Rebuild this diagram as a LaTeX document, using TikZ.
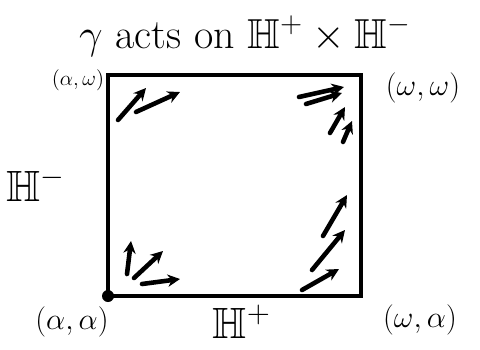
\documentclass[tikz,border=0pt]{standalone}
\usepackage{amsmath}
\usepackage{amssymb}
\usepackage{xcolor}
\usetikzlibrary{arrows.meta,positioning}

\begin{document}
\begin{tikzpicture}[x=0.02cm,y=-0.02cm,
    flowarrow/.style={line width=2.6pt, -{Stealth[length=7pt,width=7pt]}, line cap=round},
    cornerlbl/.style={font=\LARGE},
    axislbl/.style={font=\huge, scale=1.2}
]
\useasboundingbox (0,0) rectangle (480,349);

% the square H+ x H-
\coordinate (aa) at (108,296);
\coordinate (aw) at (108,75);
\coordinate (ww) at (361,75);
\coordinate (wa) at (361,296);
\draw[line width=1.9pt] (aa) -- (aw) -- (ww) -- (wa) -- cycle;
\fill (aa) circle (6);

\node[font=\huge, scale=1.15] (title) at (245,36) {$\gamma$ acts on $\mathbb{H}^{+}\times\mathbb{H}^{-}$};
\node[font=\large] (aw lbl) at (78,80) {$(\alpha,\omega)$};
\node[cornerlbl] (ww lbl) at (423,88) {$(\omega,\omega)$};
\node[cornerlbl] (aa lbl) at (72,322) {$(\alpha,\alpha)$};
\node[cornerlbl] (wa lbl) at (420,320) {$(\omega,\alpha)$};
\node[axislbl] (hminus) at (36,185) {$\mathbb{H}^{-}$};
\node[axislbl] (hplus) at (242,322) {$\mathbb{H}^{+}$};

% orbits near (alpha,omega)
\coordinate (p1) at (118,120); \coordinate (q1) at (146,88);
\coordinate (p2) at (136,112); \coordinate (q2) at (180,92);
\draw[flowarrow] (p1) -- (q1);
\draw[flowarrow] (p2) -- (q2);

% orbits near (omega,omega)
\coordinate (p3) at (299,97);  \coordinate (q3) at (344,87);
\coordinate (p4) at (306,104); \coordinate (q4) at (342,93);
\coordinate (p5) at (330,133); \coordinate (q5) at (345,107);
\coordinate (p6) at (343,142); \coordinate (q6) at (352,121);
\foreach \s/\t in {p3/q3,p4/q4,p5/q5,p6/q6}
  \draw[flowarrow] (\s) -- (\t);

% orbits near (omega,alpha)
\coordinate (p7) at (323,236); \coordinate (q7) at (347,195);
\coordinate (p8) at (312,270); \coordinate (q8) at (345,230);
\coordinate (p9) at (302,290); \coordinate (q9) at (339,269);
\foreach \s/\t in {p7/q7,p8/q8,p9/q9}
  \draw[flowarrow] (\s) -- (\t);

% orbits leaving (alpha,alpha)
\coordinate (p10) at (127,274); \coordinate (q10) at (131,241);
\coordinate (p11) at (134,278); \coordinate (q11) at (163,251);
\coordinate (p12) at (142,284); \coordinate (q12) at (180,279);
\foreach \s/\t in {p10/q10,p11/q11,p12/q12}
  \draw[flowarrow] (\s) -- (\t);
\end{tikzpicture}
\end{document}
